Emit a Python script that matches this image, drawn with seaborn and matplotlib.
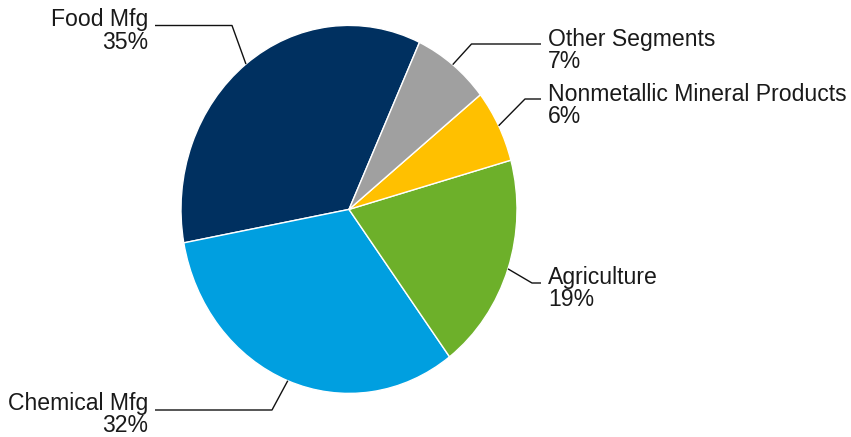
import numpy as np
import matplotlib
matplotlib.use("Agg")
import matplotlib.pyplot as plt
import seaborn as sns

# Segment shares (percent), listed counter-clockwise starting from Food Mfg
segments = ["Food Mfg", "Chemical Mfg", "Agriculture",
            "Nonmetallic Mineral Products", "Other Segments"]
shares = [34.8, 32.3, 19.1, 6.4, 7.4]
colors = ["#003060", "#009FE0", "#6DB02A", "#FFC000", "#A0A0A0"]

sns.set_theme(style="white")
plt.rcParams["font.family"] = ["Liberation Sans", "DejaVu Sans"]

W, H = 851, 437
fig = plt.figure(figsize=(W / 100, H / 100), dpi=100)
ax = fig.add_axes([0, 0, 1, 1])

# pie geometry in pixels (slightly taller than wide)
cx, cy, rx, ry = 349.0, 209.4, 168.0, 184.0


def px(x, y):
    """pixel position (from top-left) -> data coordinates of the unit pie"""
    return (x - cx) / rx, (cy - y) / ry


start = 65.2
wedges, _ = ax.pie(shares, colors=colors, startangle=start, counterclock=True,
                   radius=1.0, center=(0, 0),
                   wedgeprops=dict(edgecolor="white", linewidth=1.0))

ax.set_xlim(px(0, 0)[0], px(W, 0)[0])
ax.set_ylim(px(0, H)[1], px(0, 0)[1])
ax.set_aspect("auto")
ax.axis("off")

# label layout: elbow of leader, end of horizontal run, text anchor, side
layout = {
    "Food Mfg": dict(elbow=(232, 25.5), end=155, tx=148, base=(26, 49), ha="right"),
    "Chemical Mfg": dict(elbow=(272, 410), end=155, tx=148, base=(410.3, 432), ha="right"),
    "Agriculture": dict(elbow=(532, 283), end=541, tx=548, base=(284, 306), ha="left"),
    "Nonmetallic Mineral Products": dict(elbow=(525, 99), end=541, tx=548, base=(101.5, 123), ha="left"),
    "Other Segments": dict(elbow=(471.5, 44), end=541, tx=548, base=(46, 67.5), ha="left"),
}

total = sum(shares)
angle = start
for name, val in zip(segments, shares):
    span = 360.0 * val / total
    mid = np.deg2rad(angle + span / 2)
    angle += span
    L = layout[name]
    p0 = (np.cos(mid), np.sin(mid))
    p1 = px(*L["elbow"])
    p2 = px(L["end"], L["elbow"][1])
    ax.plot([p0[0], p1[0], p2[0]], [p0[1], p1[1], p2[1]],
            color="#111111", lw=1.0, solid_capstyle="butt", zorder=3)
    for txt, b in zip([name, f"{round(val)}%"], L["base"]):
        tx, ty = px(L["tx"], b)
        ax.text(tx, ty, txt, ha=L["ha"], va="baseline",
                fontsize=16.6, color="#1a1a1a")

fig.savefig("out.png", dpi=100)
